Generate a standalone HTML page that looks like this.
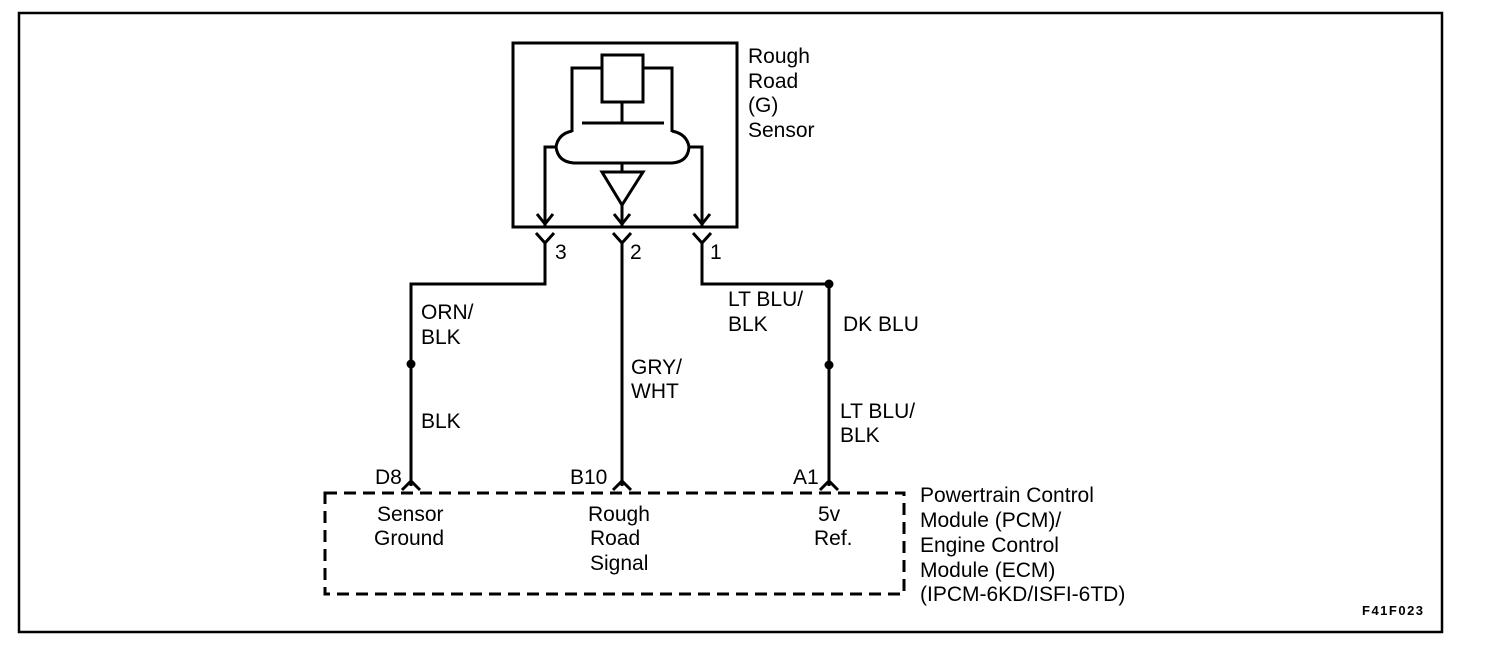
<!DOCTYPE html>
<html><head><meta charset="utf-8"><style>
html,body{margin:0;padding:0;background:#fff;}
svg{display:block;}
text{font-family:"Liberation Sans",Arial,sans-serif;font-size:21px;fill:#000;}
</style></head><body>
<svg width="1504" height="660" viewBox="0 0 1504 660" xmlns="http://www.w3.org/2000/svg">
<g fill="none" stroke="#000" stroke-width="3">
<rect x="19" y="13" width="1423" height="619" stroke-width="2.5"/>
<rect x="513" y="43" width="224" height="184"/>
<rect x="602" y="55" width="41" height="47"/>
<path d="M602 68 H572 V132"/>
<path d="M643 68 H672 V132"/>
<line x1="622" y1="102" x2="622" y2="123"/>
<line x1="582" y1="123" x2="664" y2="123"/>
<path d="M572 131 Q558 134 556 147 Q558 162 574 163 H672 Q688 162 689 147 Q687 134 672 131"/>
<path d="M556 147 H545 V226"/>
<path d="M689 147 H702 V226"/>
<line x1="622" y1="163" x2="622" y2="172"/>
<path d="M602 172 H643 L622 205 Z"/>
<line x1="622" y1="205" x2="622" y2="226"/>
<path d="M537 214 L545 224 L553 214"/>
<path d="M614 214 L622 224 L630 214"/>
<path d="M694 214 L702 224 L710 214"/>
<path d="M536 233 L545 243 L554 233"/>
<path d="M613 233 L622 243 L631 233"/>
<path d="M693 233 L702 243 L711 233"/>
<path d="M545 243 V284 H411 V486"/>
<path d="M622 243 V486"/>
<path d="M702 243 V284 H829 V486"/>
<path d="M402 490 L411 481 L420 490"/>
<path d="M613 490 L622 481 L631 490"/>
<path d="M820 490 L829 481 L838 490"/>
<rect x="325" y="493" width="579" height="101" stroke-dasharray="12,7"/>
</g>
<g fill="#000">
<circle cx="829" cy="284" r="4.5"/>
<circle cx="829" cy="365" r="4.5"/>
<circle cx="411" cy="364" r="4.5"/>
</g>
<text x="748" y="63">Rough</text>
<text x="748" y="88">Road</text>
<text x="748" y="112">(G)</text>
<text x="748" y="137">Sensor</text>
<text x="555" y="259">3</text>
<text x="630" y="259">2</text>
<text x="710" y="259">1</text>
<text x="421" y="319">ORN/</text>
<text x="421" y="344">BLK</text>
<text x="421" y="428">BLK</text>
<text x="631" y="374">GRY/</text>
<text x="631" y="398">WHT</text>
<text x="728" y="306">LT BLU/</text>
<text x="728" y="331">BLK</text>
<text x="843" y="331">DK BLU</text>
<text x="840" y="418">LT BLU/</text>
<text x="840" y="442">BLK</text>
<text x="375" y="484">D8</text>
<text x="570" y="484">B10</text>
<text x="793" y="484">A1</text>
<text x="377" y="521">Sensor</text>
<text x="374" y="545">Ground</text>
<text x="588" y="521">Rough</text>
<text x="590" y="545">Road</text>
<text x="590" y="570">Signal</text>
<text x="818" y="521">5v</text>
<text x="814" y="545">Ref.</text>
<text x="920" y="502">Powertrain Control</text>
<text x="920" y="527">Module (PCM)/</text>
<text x="920" y="552">Engine Control</text>
<text x="920" y="577">Module (ECM)</text>
<text x="920" y="601">(IPCM-6KD/ISFI-6TD)</text>
<text x="1362" y="615" style="font-size:13px;font-weight:bold;letter-spacing:1.5px">F41F023</text>
</svg>
</body></html>
